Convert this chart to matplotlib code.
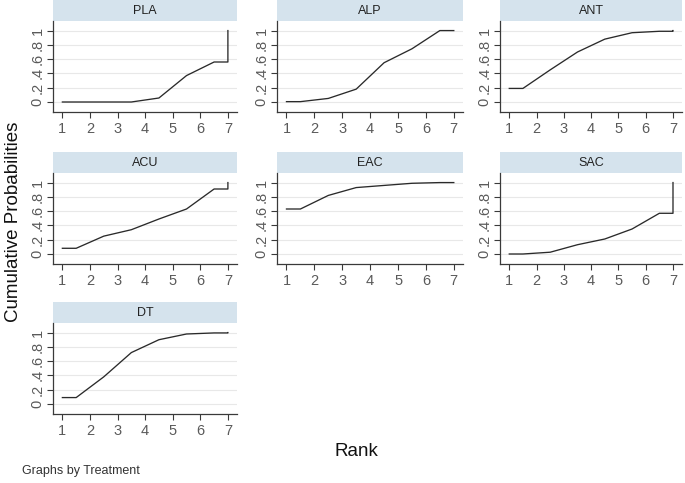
import matplotlib
matplotlib.use("Agg")
import matplotlib.pyplot as plt

plt.rcParams['font.family'] = ['Liberation Sans', 'DejaVu Sans']

treatments = ["PLA", "ALP", "ANT", "ACU", "EAC", "SAC", "DT"]
# cumulative probabilities for rank 1..6 (rank 7 is always 1)
cum_PLA = [0.0, 0.0, 0.0, 0.056, 0.37, 0.56]
cum_ALP = [0.005, 0.05, 0.18, 0.55, 0.745, 1.0]
cum_ANT = [0.19, 0.45, 0.70, 0.88, 0.97, 0.99]
cum_ACU = [0.08, 0.25, 0.34, 0.49, 0.63, 0.91]
cum_EAC = [0.63, 0.82, 0.93, 0.96, 0.99, 1.0]
cum_SAC = [0.0, 0.025, 0.13, 0.21, 0.35, 0.57]
cum_DT = [0.09, 0.38, 0.72, 0.90, 0.98, 0.995]
cum_all = [cum_PLA, cum_ALP, cum_ANT, cum_ACU, cum_EAC, cum_SAC, cum_DT]

x_ticks = [1, 2, 3, 4, 5, 6, 7]
y_ticks = [0, 0.2, 0.4, 0.6, 0.8, 1.0]
y_ticklabels = ["0", ".2", ".4", ".6", ".8", "1"]

W, H = 685, 483
fig = plt.figure(figsize=(W / 100, H / 100), dpi=100)

col_left = [53, 277, 500]
col_w = [184, 186, 182]
row_top = [0, 152, 302]
strip_h = 21
plot_h = 91

line_col = "#2a2a2a"
axis_col = "#3a3a3a"
tick_col = "#5a5a5a"
strip_col = "#d5e3ed"

for i, (name, cum) in enumerate(zip(treatments, cum_all)):
    r, c = divmod(i, 3)
    x0 = col_left[c]
    w = col_w[c]
    top = row_top[r]
    # strip
    sax = fig.add_axes([x0 / W, 1 - (top + strip_h) / H, w / W, strip_h / H])
    sax.set_facecolor(strip_col)
    sax.set_xticks([]); sax.set_yticks([])
    for s in sax.spines.values():
        s.set_visible(False)
    sax.text(0.5, 0.5, name, ha="center", va="center", fontsize=9, color="#222222",
             transform=sax.transAxes)
    # plot
    ax = fig.add_axes([x0 / W, 1 - (top + strip_h + plot_h) / H, w / W, plot_h / H])
    xs = [1, 1.5, 2.5, 3.5, 4.5, 5.5, 6.5, 7, 7]
    ys = [cum[0]] + list(cum) + [cum[5], 1.0]
    ax.plot(xs, ys, color=line_col, lw=0.95)
    ax.set_xlim(0.66, 7.33)
    ax.set_ylim(-0.14, 1.134)
    ax.set_xticks(x_ticks)
    ax.set_xticklabels([str(t) for t in x_ticks])
    ax.set_yticks(y_ticks)
    ax.set_yticklabels(y_ticklabels, rotation=90, va="center")
    ax.tick_params(axis="both", colors=axis_col, labelcolor=tick_col, labelsize=10.5,
                   length=4, width=0.8, direction="out")
    ax.tick_params(axis="y", pad=2)
    ax.grid(axis="y", color="#e8e8e8", lw=0.8)
    ax.set_axisbelow(True)
    for s in ["top", "right"]:
        ax.spines[s].set_visible(False)
    for s in ["left", "bottom"]:
        ax.spines[s].set_color(axis_col)
        ax.spines[s].set_linewidth(0.9)

fig.text(14 / W, 1 - 222 / H, "Cumulative Probabilities", rotation=90, ha="center", va="center",
         fontsize=13.5, color="#111111")
fig.text(356 / W, 1 - 452 / H, "Rank", ha="center", va="center", fontsize=13.5, color="#111111")
fig.text(22 / W, 1 - 471 / H, "Graphs by Treatment", ha="left", va="center", fontsize=9,
         color="#333333")

fig.savefig("out.png", dpi=100)
